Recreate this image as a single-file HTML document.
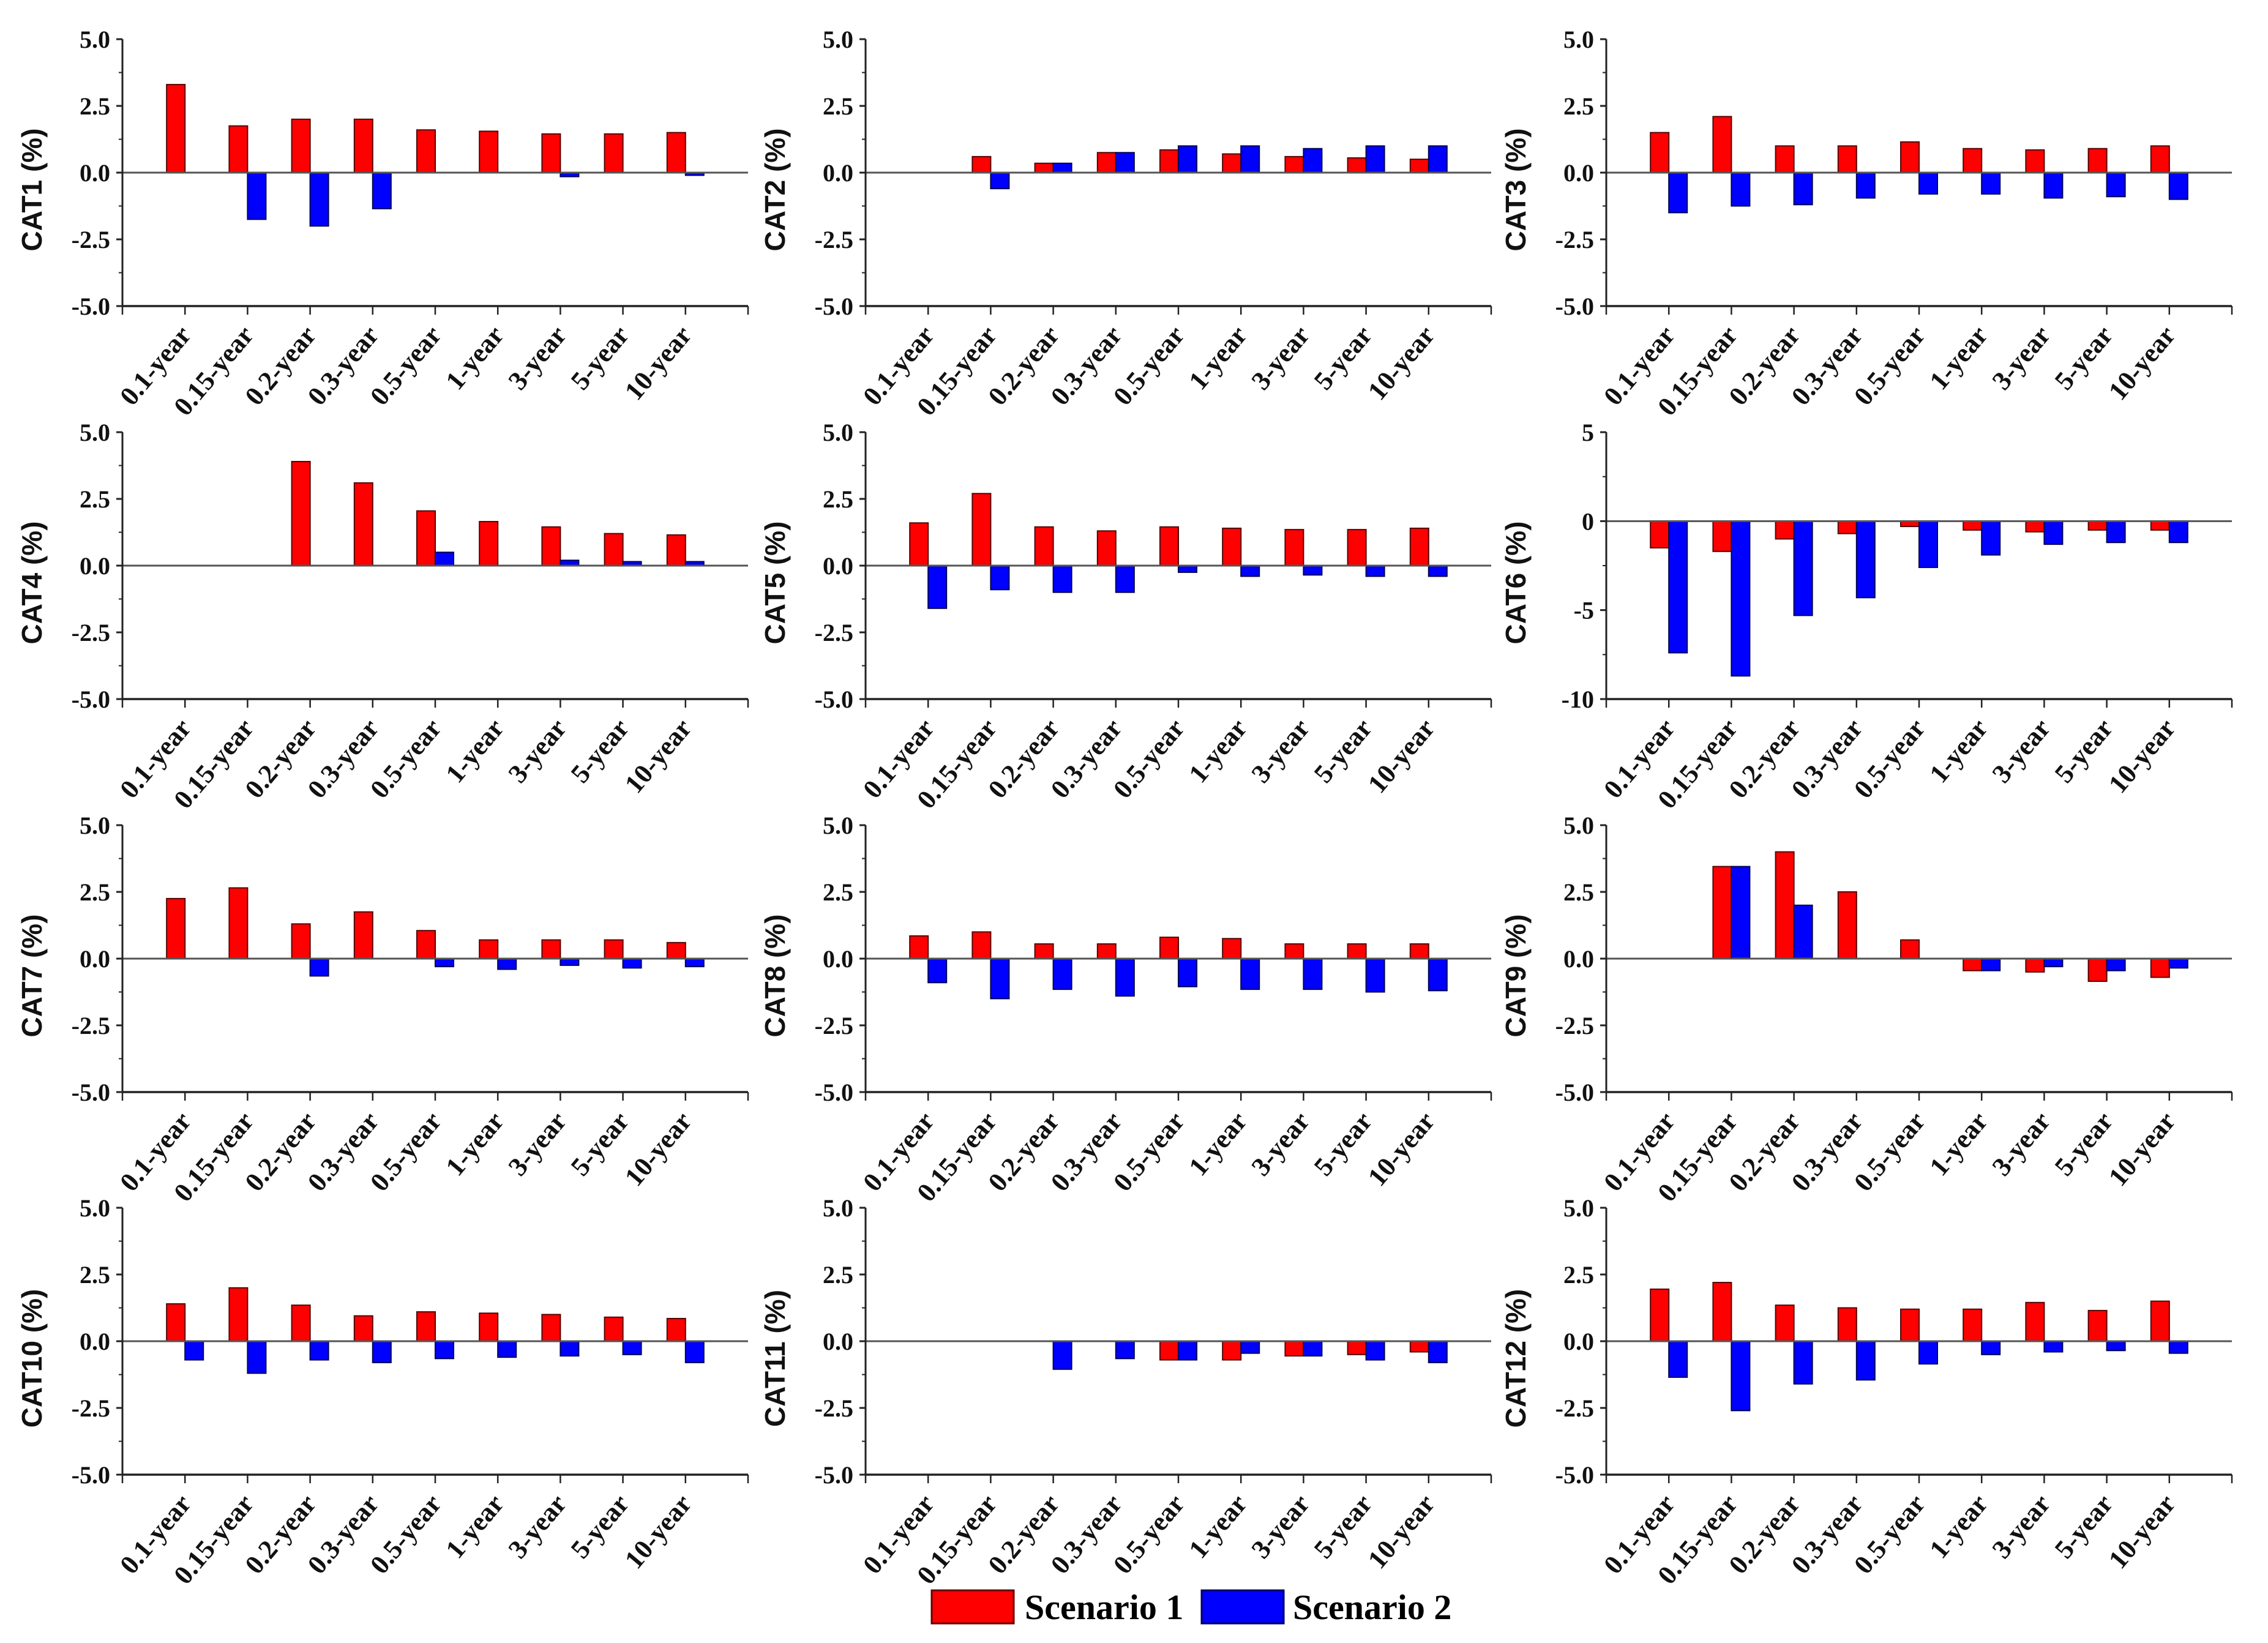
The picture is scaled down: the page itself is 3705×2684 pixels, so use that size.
<!DOCTYPE html>
<html><head><meta charset="utf-8"><style>
html,body{margin:0;padding:0;background:#fff;}
svg{display:block;}
</style></head><body>
<svg id="fig" width="3705" height="2684" viewBox="0 0 3705 2684" xmlns="http://www.w3.org/2000/svg">
<g>
<rect x="1522" y="2598" width="134" height="54" fill="#ff0000" stroke="#600" stroke-width="3"/>
<text x="1674" y="2645" font-family="Liberation Serif, serif" font-weight="bold" font-size="58">Scenario 1</text>
<rect x="1963" y="2598" width="134" height="54" fill="#0000ff" stroke="#006" stroke-width="3"/>
<text x="2112" y="2645" font-family="Liberation Serif, serif" font-weight="bold" font-size="58">Scenario 2</text>
</g>
</svg>
<script>
const categories = ["0.1-year","0.15-year","0.2-year","0.3-year","0.5-year","1-year","3-year","5-year","10-year"];
const panelNames = ["CAT1","CAT2","CAT3","CAT4","CAT5","CAT6","CAT7","CAT8","CAT9","CAT10","CAT11","CAT12"];
const s1CAT1 = [3.3,1.75,2.0,2.0,1.6,1.55,1.45,1.45,1.5];
const s2CAT1 = [null,-1.75,-2.0,-1.35,null,null,-0.15,null,-0.1];
const s1CAT2 = [null,0.6,0.35,0.75,0.85,0.7,0.6,0.55,0.5];
const s2CAT2 = [null,-0.6,0.35,0.75,1.0,1.0,0.9,1.0,1.0];
const s1CAT3 = [1.5,2.1,1.0,1.0,1.15,0.9,0.85,0.9,1.0];
const s2CAT3 = [-1.5,-1.25,-1.2,-0.95,-0.8,-0.8,-0.95,-0.9,-1.0];
const s1CAT4 = [null,null,3.9,3.1,2.05,1.65,1.45,1.2,1.15];
const s2CAT4 = [null,null,null,null,0.5,null,0.2,0.15,0.15];
const s1CAT5 = [1.6,2.7,1.45,1.3,1.45,1.4,1.35,1.35,1.4];
const s2CAT5 = [-1.6,-0.9,-1.0,-1.0,-0.25,-0.4,-0.35,-0.4,-0.4];
const s1CAT6 = [-1.5,-1.7,-1.0,-0.7,-0.3,-0.5,-0.6,-0.5,-0.5];
const s2CAT6 = [-7.4,-8.7,-5.3,-4.3,-2.6,-1.9,-1.3,-1.2,-1.2];
const s1CAT7 = [2.25,2.65,1.3,1.75,1.05,0.7,0.7,0.7,0.6];
const s2CAT7 = [null,null,-0.65,null,-0.3,-0.4,-0.25,-0.35,-0.3];
const s1CAT8 = [0.85,1.0,0.55,0.55,0.8,0.75,0.55,0.55,0.55];
const s2CAT8 = [-0.9,-1.5,-1.15,-1.4,-1.05,-1.15,-1.15,-1.25,-1.2];
const s1CAT9 = [null,3.45,4.0,2.5,0.7,-0.45,-0.5,-0.85,-0.7];
const s2CAT9 = [null,3.45,2.0,null,null,-0.45,-0.3,-0.45,-0.35];
const s1CAT10 = [1.4,2.0,1.35,0.95,1.1,1.05,1.0,0.9,0.85];
const s2CAT10 = [-0.7,-1.2,-0.7,-0.8,-0.65,-0.6,-0.55,-0.5,-0.8];
const s1CAT11 = [null,null,null,null,-0.7,-0.7,-0.55,-0.5,-0.4];
const s2CAT11 = [null,null,-1.05,-0.65,-0.7,-0.45,-0.55,-0.7,-0.8];
const s1CAT12 = [1.95,2.2,1.35,1.25,1.2,1.2,1.45,1.15,1.5];
const s2CAT12 = [-1.35,-2.6,-1.6,-1.45,-0.85,-0.5,-0.4,-0.35,-0.45];
const ticksStd = ["5.0","2.5","0.0","-2.5","-5.0"];
const ticksCAT6 = ["5","0","-5","-10"];

const S1 = [s1CAT1,s1CAT2,s1CAT3,s1CAT4,s1CAT5,s1CAT6,s1CAT7,s1CAT8,s1CAT9,s1CAT10,s1CAT11,s1CAT12];
const S2 = [s2CAT1,s2CAT2,s2CAT3,s2CAT4,s2CAT5,s2CAT6,s2CAT7,s2CAT8,s2CAT9,s2CAT10,s2CAT11,s2CAT12];
const colX = [200,1414,2624];
const rowY = [64,706,1348,1973];
const W = 1022, H = 436;
const NS = "http://www.w3.org/2000/svg";
const svg = document.getElementById('fig');
function mk(tag, attrs, parent){const e=document.createElementNS(NS,tag);for(const k in attrs)e.setAttribute(k,attrs[k]);parent.appendChild(e);return e;}

panelNames.forEach((name,p)=>{
  const x0 = colX[p%3], y0 = rowY[Math.floor(p/3)];
  const isC6 = name==="CAT6";
  const ymax = 5, ymin = isC6 ? -10 : -5;
  const ticks = isC6 ? ticksCAT6 : ticksStd;
  const yS = v => y0 + (ymax - v)/(ymax - ymin)*H;
  const xS = i => x0 + (i+1)*W/10;
  const g = mk('g',{},svg);
  
  
  const bw = 30;
  categories.forEach((c,i)=>{
    const a = S1[p][i], b = S2[p][i];
    if(a!==null){
      const r = mk('rect',{x:xS(i)-bw,y:Math.min(yS(a),yS(0)),width:bw,height:Math.abs(yS(a)-yS(0)),fill:'#ff0000',stroke:'#500','stroke-width':2},g);
      
      
    }
    if(b!==null){
      const r = mk('rect',{x:xS(i),y:Math.min(yS(b),yS(0)),width:bw,height:Math.abs(yS(b)-yS(0)),fill:'#0000ff',stroke:'#005','stroke-width':2},g);
      
      
    }
  });
  const zl = mk('line',{x1:x0,x2:x0+W,y1:yS(0),y2:yS(0),stroke:'#555','stroke-width':3},g);
  
  
  const ya = mk('line',{x1:x0,x2:x0,y1:y0,y2:y0+H+1,stroke:'#222','stroke-width':3},g);
  
  
  const xa = mk('line',{x1:x0,x2:x0+W,y1:y0+H,y2:y0+H,stroke:'#222','stroke-width':3.5},g);
  
  
  ticks.forEach(t=>{
    const v = parseFloat(t), y = yS(v);
    mk('line',{x1:x0-10,x2:x0,y1:y,y2:y,stroke:'#222','stroke-width':3},g);
    const tx = mk('text',{x:x0-20,y:y+14,'text-anchor':'end','font-family':'Liberation Serif, serif','font-weight':'bold','font-size':40,fill:'#111'},g);
    tx.textContent = t;
    
    
  });
  const step = isC6 ? 2.5 : 1.25;
  for(let v=ymin+step; v<ymax; v+=2*step){
    mk('line',{x1:x0-6,x2:x0,y1:yS(v),y2:yS(v),stroke:'#222','stroke-width':2},g);
  }
  for(let k=0;k<=10;k++){
    mk('line',{x1:x0+k*W/10,x2:x0+k*W/10,y1:y0+H,y2:y0+H+14,stroke:'#222','stroke-width':2.5},g);
  }
  categories.forEach((c,i)=>{
    const x = xS(i)+12, y = y0+H+48;
    const tx = mk('text',{x:x,y:y,'text-anchor':'end','font-family':'Liberation Serif, serif','font-weight':'bold','font-size':44,fill:'#111',transform:'rotate(-50 '+x+' '+y+')'},g);
    tx.textContent = c;
    
    
  });
  const cx = x0-132, cy = y0+H/2+28;
  const yt = mk('text',{x:cx,y:cy,'text-anchor':'middle','font-family':'Liberation Sans, sans-serif','font-weight':'bold','font-size':46,fill:'#111',transform:'rotate(-90 '+cx+' '+cy+')'},g);
  yt.textContent = name+' (%)';
  
  
});
</script>
</body></html>
